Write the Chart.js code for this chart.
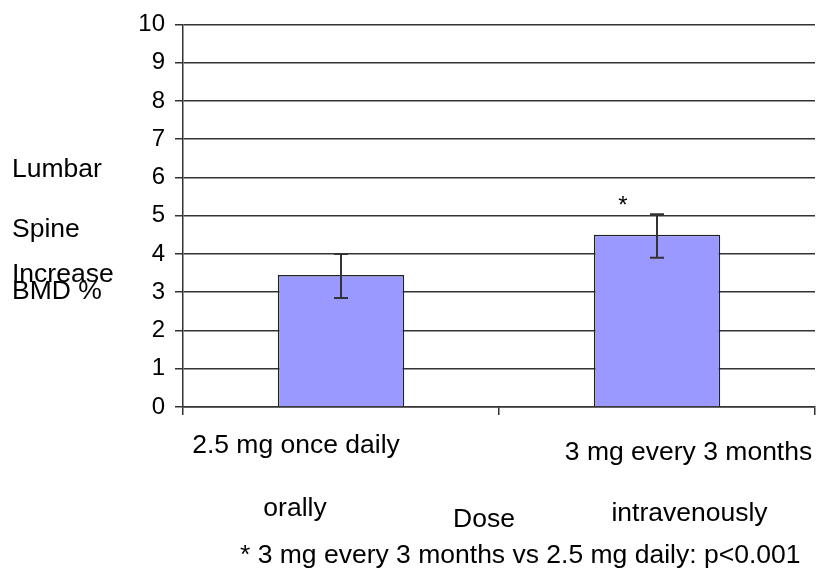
<!DOCTYPE html>
<html>
<head>
<meta charset="utf-8">
<script src="https://cdn.jsdelivr.net/npm/chart.js@4"></script>
<style>
  html, body { margin: 0; padding: 0; background: #fff; }
  #wrap { width: 816px; height: 569px; position: relative; }
</style>
</head>
<body>
<div id="wrap"><canvas id="c"></canvas></div>
<script>
// ---- data ----
const categories = ["2.5 mg once daily orally", "3 mg every 3 months intravenously"];
const categoryLine1 = ["2.5 mg once daily", "3 mg every 3 months"];
const categoryLine2 = ["orally", "intravenously"];
const bmdIncrease = [3.45, 4.5];
const errLow = [2.85, 3.9];
const errHigh = [4.0, 5.04];
const significance = ["", "*"];
const yTitleLines = ["Lumbar", "Spine", "Increase", "BMD %"];
const xTitle = "Dose";
const footnote = "* 3 mg every 3 months vs 2.5 mg daily: p<0.001";
const yMin = 0, yMax = 10, yStep = 1;

const FONT = '"Liberation Sans", Arial, sans-serif';

const overlay = {
  id: 'overlay',
  afterDatasetsDraw(chart) {
    const ctx = chart.ctx;
    const x = chart.scales.x, y = chart.scales.y;
    ctx.save();
    // error bars
    ctx.strokeStyle = '#333';
    ctx.lineWidth = 2;
    bmdIncrease.forEach((v, i) => {
      const cx = Math.round(x.getPixelForValue(i));
      const yl = y.getPixelForValue(errLow[i]);
      const yh = y.getPixelForValue(errHigh[i]);
      ctx.beginPath();
      ctx.moveTo(cx, yl); ctx.lineTo(cx, yh);
      ctx.moveTo(cx - 7, yl); ctx.lineTo(cx + 7, yl);
      ctx.moveTo(cx - 7, yh); ctx.lineTo(cx + 7, yh);
      ctx.stroke();
    });
    // significance markers
    ctx.fillStyle = '#000';
    ctx.font = '24px ' + FONT;
    ctx.textAlign = 'center';
    ctx.textBaseline = 'alphabetic';
    significance.forEach((s, i) => {
      if (!s) return;
      ctx.fillText(s, x.getPixelForValue(i) - 34, y.getPixelForValue(errHigh[i]) - 1);
    });
    ctx.restore();
  },
  afterDraw(chart) {
    const ctx = chart.ctx;
    const x = chart.scales.x;
    const area = chart.chartArea;
    ctx.save();
    ctx.fillStyle = '#000';
    ctx.font = '26.5px ' + FONT;
    ctx.textBaseline = 'alphabetic';
    // category labels
    const off1 = [-45, 31.5], base1 = [453, 460];
    const off2 = [-46, 32.5], base2 = [516, 521];
    ctx.textAlign = 'center';
    categoryLine1.forEach((t, i) => ctx.fillText(t, x.getPixelForValue(i) + off1[i], base1[i]));
    categoryLine2.forEach((t, i) => ctx.fillText(t, x.getPixelForValue(i) + off2[i], base2[i]));
    // axis title
    ctx.fillText(xTitle, (area.left + area.right) / 2 - 15, 527);
    // footnote
    ctx.textAlign = 'left';
    ctx.fillText(footnote, 240, 563);
    // y title
    const yb = [177, 237, 282, 299];
    yTitleLines.forEach((t, i) => ctx.fillText(t, 12, yb[i]));
    ctx.restore();
  }
};

new Chart(document.getElementById('c'), {
  type: 'bar',
  data: {
    labels: categories,
    datasets: [{
      data: bmdIncrease,
      backgroundColor: '#9999FF',
      borderColor: '#222222',
      borderWidth: 1.5,
      barPercentage: 0.4,
      categoryPercentage: 1.0
    }]
  },
  options: {
    responsive: true,
    maintainAspectRatio: false,
    animation: false,
    devicePixelRatio: 1,
    layout: { padding: { top: 23, right: 1, left: 0, bottom: 0 } },
    plugins: { legend: { display: false }, tooltip: { enabled: false }, title: { display: false } },
    scales: {
      x: {
        offset: true,
        grid: { display: true, drawOnChartArea: false, drawTicks: true, tickLength: 8, color: '#333', lineWidth: 1.5, offset: true },
        border: { display: true, color: '#333', width: 1.5 },
        ticks: { display: false },
        afterFit(s) { s.height = 162; }
      },
      y: {
        min: yMin, max: yMax,
        ticks: { stepSize: yStep, color: '#000', padding: 10, font: { family: FONT, size: 24 } },
        grid: { color: '#333', lineWidth: 1.5, tickLength: 8, drawTicks: true },
        border: { display: true, color: '#333', width: 1.5 },
        afterFit(s) { s.width = 183; }
      }
    }
  },
  plugins: [overlay]
});
</script>
</body>
</html>
